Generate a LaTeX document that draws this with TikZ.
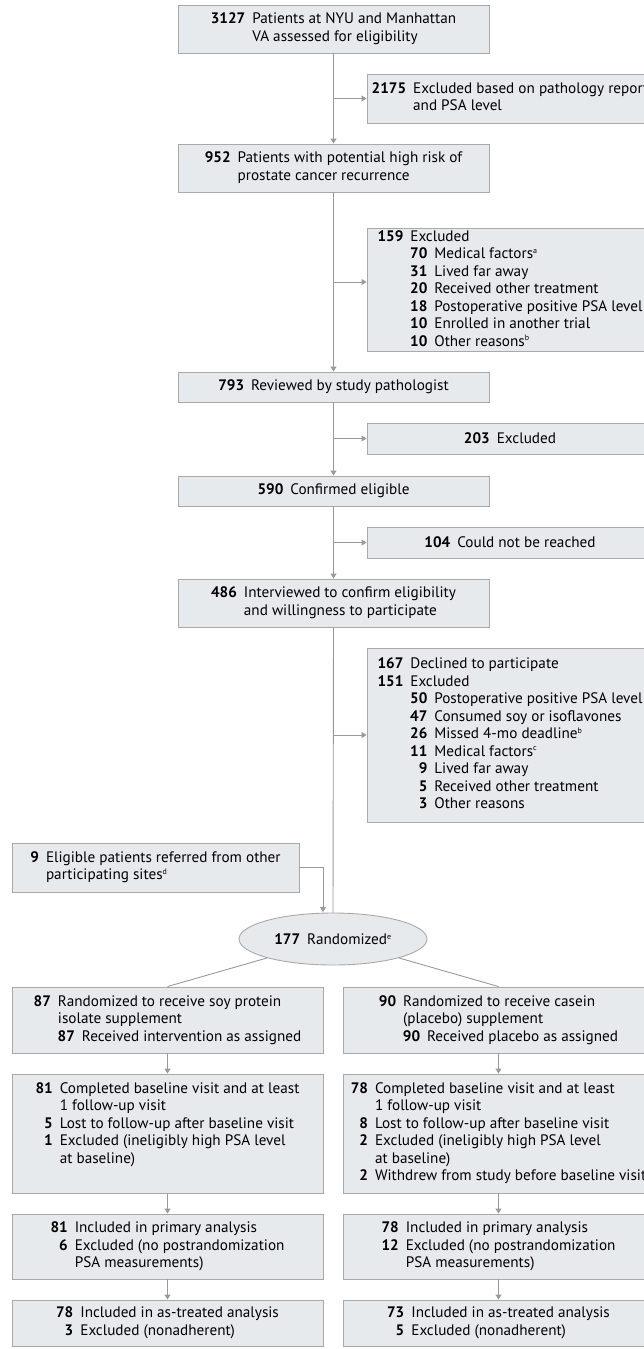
\documentclass[tikz,border=0pt]{standalone}
\usepackage{fontspec}
\setmainfont{PT Sans}
\usepackage{tikz}
\usetikzlibrary{arrows.meta,shapes.geometric,positioning}
\definecolor{boxfill}{HTML}{E6EAED}
\definecolor{boxline}{HTML}{A9A9A9}
\definecolor{flowline}{HTML}{999999}
\newcommand{\nm}[1]{\textbf{#1}}
\newcommand{\subitm}[2]{\makebox[17pt][r]{\textbf{#1}}\hspace{7pt}#2}
\newcommand{\ftn}[1]{\textsuperscript{\fontsize{8}{8}\selectfont #1}}
\newenvironment{flowtext}{\begin{tabular}{@{}r@{\hspace{7pt}}l@{}}}{\end{tabular}}

\begin{document}
\begin{tikzpicture}[x=1pt,y=-1pt,
  box/.style={draw=boxline, fill=boxfill, line width=0.9pt, inner sep=0pt, minimum width=311pt, font=\fontsize{15.2}{17.5}\selectfont},
  side/.style={box, minimum width=286pt},
  flow/.style={draw=flowline, line width=0.9pt},
  arr/.style={flow, -{Triangle[width=6pt,length=5pt]}}]
\useasboundingbox (0,0) rectangle (644,1349);

% Screening trunk
\node[box, minimum height=48pt] (assess) at (333.5,29) {\begin{flowtext}\nm{3127} & Patients at NYU and Manhattan\\ & VA assessed for eligibility\end{flowtext}};
\node[box, minimum height=48pt] (risk) at (333.5,168) {\begin{flowtext}\nm{952} & Patients with potential high risk of\\ & prostate cancer recurrence\end{flowtext}};
\node[box, minimum height=30pt] (review) at (333.5,387) {\nm{793}\hspace{7pt}Reviewed by study pathologist};
\node[box, minimum height=30pt] (confirm) at (333.5,491) {\nm{590}\hspace{7pt}Confirmed eligible};
\node[box, minimum height=48pt] (interview) at (333.5,603) {\begin{flowtext}\nm{486} & Interviewed to confirm eligibility\\ & and willingness to participate\end{flowtext}};

% Exclusions
\node[side, minimum height=49pt] (exA) at (510,98.5) {\begin{flowtext}\nm{2175} & Excluded based on pathology report\\ & and PSA level\end{flowtext}};
\node[side, minimum height=122pt] (exB) at (510,290) {\begin{flowtext}\nm{159} & Excluded\\
 & \subitm{70}{Medical factors\ftn{a}}\\
 & \subitm{31}{Lived far away}\\
 & \subitm{20}{Received other treatment}\\
 & \subitm{18}{Postoperative positive PSA level}\\
 & \subitm{10}{Enrolled in another trial}\\
 & \subitm{10}{Other reasons\ftn{b}}\end{flowtext}};
\node[side, minimum height=31pt] (exC) at (510,438.5) {\nm{203}\hspace{7pt}Excluded};
\node[side, minimum height=31pt] (exD) at (510,542.5) {\nm{104}\hspace{7pt}Could not be reached};
\node[side, minimum height=174pt] (exE) at (510,735) {\begin{flowtext}\nm{167} & Declined to participate\\
\nm{151} & Excluded\\
 & \subitm{50}{Postoperative positive PSA level}\\
 & \subitm{47}{Consumed soy or isoflavones}\\
 & \subitm{26}{Missed 4-mo deadline\ftn{b}}\\
 & \subitm{11}{Medical factors\ftn{c}}\\
 & \subitm{9}{Lived far away}\\
 & \subitm{5}{Received other treatment}\\
 & \subitm{3}{Other reasons}\end{flowtext}};

% Referred and randomized
\node[box, minimum width=287pt, minimum height=49pt] (refer) at (155.5,867.5) {\begin{flowtext}\nm{9} & Eligible patients referred from other\\ & participating sites\ftn{d}\end{flowtext}};
\node[ellipse, draw=boxline, fill=boxfill, line width=0.9pt, inner sep=0pt, minimum width=188pt, minimum height=52pt, font=\fontsize{15.2}{17.5}\selectfont] (rand) at (333,939) {\nm{177}\hspace{7pt}Randomized\ftn{e}};
\coordinate (referend) at (323,912);

% Soy arm
\node[box, minimum height=66pt] (soy) at (167.5,1020) {\begin{flowtext}\nm{87} & Randomized to receive soy protein\\ & isolate supplement\\ & \subitm{87}{Received intervention as assigned}\end{flowtext}};
\node[box, minimum height=119pt] (soyfu) at (167.5,1133.5) {\begin{flowtext}\nm{81} & Completed baseline visit and at least\\ & 1 follow-up visit\\
\nm{5} & Lost to follow-up after baseline visit\\
\nm{1} & Excluded (ineligibly high PSA level\\ & at baseline)\\ & \end{flowtext}};
\node[box, minimum height=65pt] (soyprim) at (167.5,1246.5) {\begin{flowtext}\nm{81} & Included in primary analysis\\ \nm{6} & Excluded (no postrandomization\\ & PSA measurements)\end{flowtext}};
\node[box, minimum height=46pt] (soytreat) at (167.5,1323) {\begin{flowtext}\nm{78} & Included in as-treated analysis\\ \nm{3} & Excluded (nonadherent)\end{flowtext}};

% Casein arm
\node[box, minimum height=66pt] (cas) at (498.5,1020) {\begin{flowtext}\nm{90} & Randomized to receive casein\\ & (placebo) supplement\\ & \subitm{90}{Received placebo as assigned}\end{flowtext}};
\node[box, minimum height=119pt] (casfu) at (498.5,1133.5) {\begin{flowtext}\nm{78} & Completed baseline visit and at least\\ & 1 follow-up visit\\
\nm{8} & Lost to follow-up after baseline visit\\
\nm{2} & Excluded (ineligibly high PSA level\\ & at baseline)\\
\nm{2} & Withdrew from study before baseline visit\end{flowtext}};
\node[box, minimum height=65pt] (casprim) at (498.5,1246.5) {\begin{flowtext}\nm{78} & Included in primary analysis\\ \nm{12} & Excluded (no postrandomization\\ & PSA measurements)\end{flowtext}};
\node[box, minimum height=46pt] (castreat) at (498.5,1323) {\begin{flowtext}\nm{73} & Included in as-treated analysis\\ \nm{5} & Excluded (nonadherent)\end{flowtext}};

% Connectors
\coordinate (jA) at (333,98.5); \coordinate (jB) at (333,282); \coordinate (jC) at (333,438.5);
\coordinate (jD) at (333,542.5); \coordinate (jE) at (333,735);
\draw[arr] (assess.south) -- (risk.north);
\draw[arr] (risk.south) -- (review.north);
\draw[arr] (review.south) -- (confirm.north);
\draw[arr] (confirm.south) -- (interview.north);
\draw[flow] (interview.south) -- (rand.north);
\draw[arr] (jA) -- (jA -| exA.west); \draw[arr] (jB) -- (jB -| exB.west);
\draw[arr] (jC) -- (jC -| exC.west); \draw[arr] (jD) -- (jD -| exD.west);
\draw[arr] (jE) -- (jE -| exE.west);
\draw[arr] (refer.east) -| (referend);
\draw[flow] (rand) -- (soy.north); \draw[flow] (rand) -- (cas.north);
\draw[arr] (soy.south) -- (soyfu.north); \draw[arr] (soyfu.south) -- (soyprim.north); \draw[arr] (soyprim.south) -- (soytreat.north);
\draw[arr] (cas.south) -- (casfu.north); \draw[arr] (casfu.south) -- (casprim.north); \draw[arr] (casprim.south) -- (castreat.north);
\end{tikzpicture}
\end{document}
